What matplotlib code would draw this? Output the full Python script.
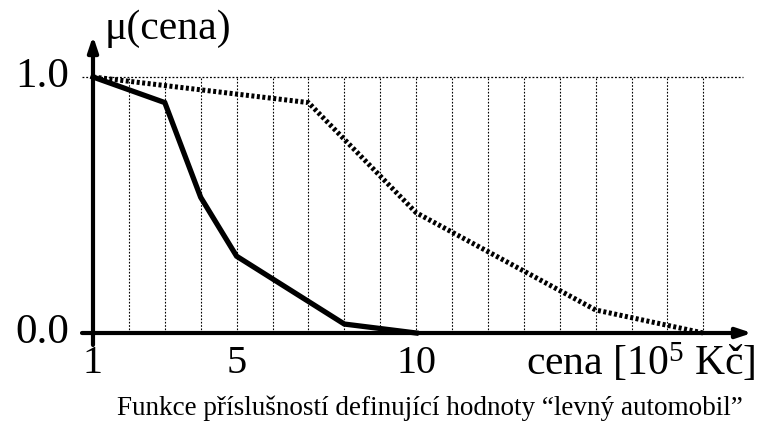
import matplotlib.pyplot as plt

plt.rcParams['font.family'] = ['Liberation Serif', 'DejaVu Serif']
plt.rcParams['mathtext.fontset'] = 'custom'
plt.rcParams['mathtext.rm'] = 'Liberation Serif'
plt.rcParams['mathtext.it'] = 'Liberation Serif'

# membership functions (price in 10^5 Kc)
cena_a = [1, 3, 4, 5, 8, 10]
mu_a = [1.0, 0.9, 0.53, 0.30, 0.035, 0.0]
cena_b = [1, 7, 10, 15, 18]
mu_b = [1.0, 0.9, 0.47, 0.09, 0.0]
grid_x = list(range(2, 19))
xticks = [1, 5, 10]
xtick_labels = ['1', '5', '10']

fig = plt.figure(figsize=(7.6, 4.29), dpi=100)
ax = fig.add_axes([0, 0, 1, 1])
sx = 35.9   # px per unit
sy = 256.0  # px per 1.0
ax.set_xlim(1 - 93 / sx, 1 + (760 - 93) / sx)
ax.set_ylim(-96 / sy, (429 - 96) / sy)
ax.axis('off')

# grid
for gx in grid_x:
    ax.plot([gx, gx], [0, 1.0], color='black', lw=0.8, linestyle=(0, (1.5, 1.5)))
ax.plot([1 - 11 / sx, 19.1], [1.0, 1.0], color='black', lw=0.9, linestyle=(0, (1.5, 1.5)))

# axes with arrows
ax.annotate('', xy=(1 + (752 - 93) / sx, 0), xytext=(1 - 11 / sx, 0),
            arrowprops=dict(arrowstyle='-|>,head_length=0.9,head_width=0.3', lw=3, color='black',
                            shrinkA=0, shrinkB=0))
ax.annotate('', xy=(1, (333 - 36) / sy), xytext=(1, -12 / sy),
            arrowprops=dict(arrowstyle='-|>,head_length=0.9,head_width=0.3', lw=3, color='black',
                            shrinkA=0, shrinkB=0))

# curves
ax.plot(cena_b, mu_b, color='black', lw=3.6, linestyle=(0, (0.6, 0.5)), solid_capstyle='butt')
ax.plot(cena_a, mu_a, color='black', lw=3.8, solid_joinstyle='miter')

# labels
ax.text(1 + 12 / sx, (333 - 39) / sy, 'μ(cena)', fontsize=30, ha='left', va='baseline')
ax.text(1 - 24 / sx, 1.0, '1.0', fontsize=31, ha='right', va='center')
ax.text(1 - 24 / sx, 0.0, '0.0', fontsize=31, ha='right', va='center')
for t, lab in zip(xticks, xtick_labels):
    ax.text(t, -12 / sy, lab, fontsize=29, ha='center', va='top')
ax.text(1 + (756 - 93) / sx, -30 / sy, 'cena [10$^{5}$ Kč]', fontsize=30, ha='right', va='center')
ax.text(1 + (430 - 93) / sx, -75 / sy, 'Funkce příslušností definující hodnoty \u201clevný automobil\u201d',
        fontsize=19.5, ha='center', va='center')

fig.savefig('out.png', dpi=100)
